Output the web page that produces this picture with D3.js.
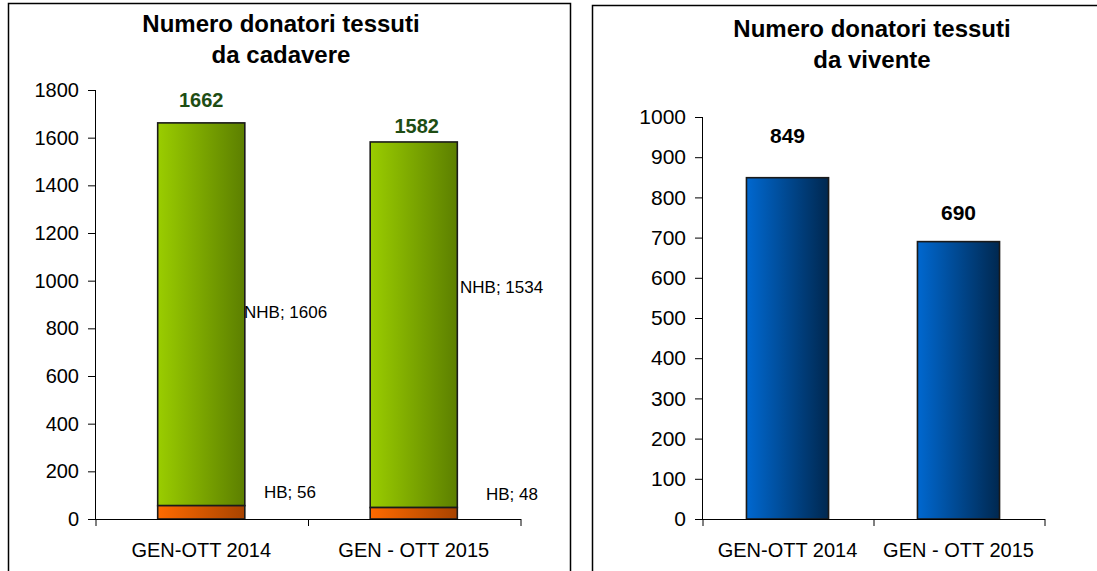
<!DOCTYPE html>
<html><head><meta charset="utf-8">
<script src="https://cdn.jsdelivr.net/npm/d3@7"></script>
<style>body{margin:0;background:#fff}svg{display:block}</style>
</head><body>
<svg id="c" width="1097" height="571"></svg>
<script>
const categories = ["GEN-OTT 2014", "GEN - OTT 2015"];
const hbValues = [56, 48];
const nhbValues = [1606, 1534];
const totalValues = [1662, 1582];
const viventeValues = [849, 690];
const leftTicks = [0, 200, 400, 600, 800, 1000, 1200, 1400, 1600, 1800];
const rightTicks = [0, 100, 200, 300, 400, 500, 600, 700, 800, 900, 1000];

const svg = d3.select("#c");
const font = "Arial, 'Liberation Sans', sans-serif";
const defs = svg.append("defs");
function grad(id, c1, c2) {
  const g = defs.append("linearGradient").attr("id", id).attr("x1", "0").attr("x2", "1").attr("y1", "0").attr("y2", "0");
  g.append("stop").attr("offset", "0").attr("stop-color", c1);
  g.append("stop").attr("offset", "1").attr("stop-color", c2);
}
grad("gGreen", "#9acd00", "#5c7f00");
grad("gOrange", "#ff6a00", "#a84300");
grad("gBlue", "#0068d0", "#002850");

// panel borders
svg.append("path").attr("d", "M8.5,571 V3.5 H570.5 V571").attr("fill", "none").attr("stroke", "#000").attr("stroke-width", 1.5);
svg.append("path").attr("d", "M592.5,571 V5.5 H1097").attr("fill", "none").attr("stroke", "#000").attr("stroke-width", 1.5);

function axisStyle(g, fs) {
  g.attr("font-size", null).attr("font-family", null);
  g.selectAll("path,line").attr("stroke", "#000").attr("stroke-width", 1);
  g.selectAll("text").attr("font-family", font).attr("font-size", fs).attr("fill", "#000");
}

function drawFrame(x0, x1, yBot, y, ticks, fs, cats) {
  const ya = svg.append("g").attr("transform", `translate(${x0},0)`)
    .call(d3.axisLeft(y).tickValues(ticks).tickFormat(d3.format("d")).tickSize(7).tickPadding(9).tickSizeOuter(0));
  axisStyle(ya, fs);
  ya.select(".domain").remove();
  svg.append("line").attr("x1", x0 + 0.5).attr("x2", x0 + 0.5).attr("y1", y.range()[1]).attr("y2", yBot).attr("stroke", "#000");
  const xa = svg.append("g").attr("transform", `translate(0,${yBot})`)
    .call(d3.axisBottom(d3.scalePoint().domain([0, 1, 2]).range([x0 + 0.5, x1 + 0.5])).tickSize(7).tickFormat(""));
  axisStyle(xa, fs);
  xa.select(".domain").remove();
  svg.append("line").attr("x1", x0).attr("x2", x1 + 1).attr("y1", yBot + 0.5).attr("y2", yBot + 0.5).attr("stroke", "#000");
  cats.forEach((c, i) => {
    svg.append("text").attr("x", x0 + (x1 - x0) * (i + 0.5) / 2).attr("y", yBot + 38).attr("text-anchor", "middle")
      .attr("font-family", font).attr("font-size", 20).text(c);
  });
}

function title(cx, y1, y2, l1, l2) {
  const t = svg.append("text").attr("text-anchor", "middle").attr("font-family", font).attr("font-size", 24).attr("font-weight", "bold");
  t.append("tspan").attr("x", cx).attr("y", y1).text(l1);
  t.append("tspan").attr("x", cx).attr("y", y2).text(l2);
}

// ---------- Left chart ----------
{
  const x0 = 95, x1 = 520, yTop = 90, yBot = 519;
  const labelGap = [16, 9];
  const x = d3.scaleBand().domain(categories).range([x0, x1]).paddingInner(0.59).paddingOuter(0.295);
  const y = d3.scaleLinear().domain([0, 1800]).range([yBot, yTop]);
  const g = svg.append("g");
  g.selectAll(".nhb").data(categories).join("rect")
    .attr("x", d => x(d)).attr("width", x.bandwidth())
    .attr("y", (d, i) => y(hbValues[i] + nhbValues[i])).attr("height", (d, i) => y(hbValues[i]) - y(hbValues[i] + nhbValues[i]))
    .attr("fill", "url(#gGreen)").attr("stroke", "#1a1a1a").attr("stroke-width", 1.6);
  g.selectAll(".hb").data(categories).join("rect")
    .attr("x", d => x(d)).attr("width", x.bandwidth())
    .attr("y", (d, i) => y(hbValues[i])).attr("height", (d, i) => y(0) - y(hbValues[i]))
    .attr("fill", "url(#gOrange)").attr("stroke", "#1a1a1a").attr("stroke-width", 1.6);
  drawFrame(x0, x1, yBot, y, leftTicks, 20, categories);
  categories.forEach((c, i) => {
    svg.append("text").attr("x", x(c) + x.bandwidth() / 2 + (i ? 3 : 0)).attr("y", y(totalValues[i]) - labelGap[i])
      .attr("text-anchor", "middle").attr("font-family", font).attr("font-size", 20).attr("font-weight", "bold")
      .attr("fill", "#1e4d14").text(totalValues[i]);
  });
  // segment labels
  const nhbPos = [[244, 318], [460, 293]];
  const hbPos = [[264, 498], [486, 500]];
  categories.forEach((c, i) => {
    svg.append("text").attr("x", nhbPos[i][0]).attr("y", nhbPos[i][1]).attr("font-family", font).attr("font-size", 17)
      .text("NHB; " + nhbValues[i]);
    svg.append("text").attr("x", hbPos[i][0]).attr("y", hbPos[i][1]).attr("font-family", font).attr("font-size", 17)
      .text("HB; " + hbValues[i]);
  });
  title(281, 32, 63, "Numero donatori tessuti", "da cadavere");
}

// ---------- Right chart ----------
{
  const x0 = 702, x1 = 1044, yTop = 117, yBot = 519;
  const labelGap = [35, 22];
  const x = d3.scaleBand().domain(categories).range([x0, x1]).paddingInner(0.52).paddingOuter(0.26);
  const y = d3.scaleLinear().domain([0, 1000]).range([yBot, yTop]);
  svg.append("g").selectAll("rect").data(categories).join("rect")
    .attr("x", d => x(d)).attr("width", x.bandwidth())
    .attr("y", (d, i) => y(viventeValues[i])).attr("height", (d, i) => y(0) - y(viventeValues[i]))
    .attr("fill", "url(#gBlue)").attr("stroke", "#1a1a1a").attr("stroke-width", 1.6);
  drawFrame(x0, x1, yBot, y, rightTicks, 21, categories);
  categories.forEach((c, i) => {
    svg.append("text").attr("x", x(c) + x.bandwidth() / 2).attr("y", y(viventeValues[i]) - labelGap[i])
      .attr("text-anchor", "middle").attr("font-family", font).attr("font-size", 21).attr("font-weight", "bold")
      .attr("fill", "#000").text(viventeValues[i]);
  });
  title(872, 37, 68, "Numero donatori tessuti", "da vivente");
}
</script>
</body></html>
